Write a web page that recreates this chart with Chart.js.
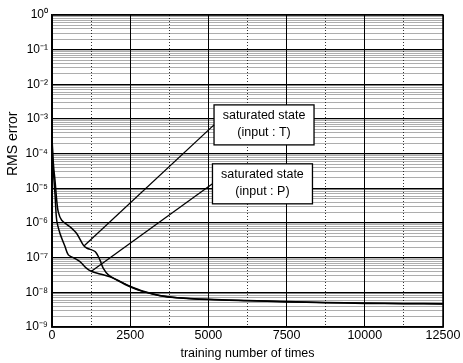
<!DOCTYPE html>
<html>
<head>
<meta charset="utf-8">
<script src="https://cdn.jsdelivr.net/npm/chart.js@4/dist/chart.umd.min.js"></script>
<style>
  html, body { margin: 0; padding: 0; background: #fff; }
  #wrap { width: 463px; height: 363px; }
</style>
</head>
<body>
<div id="wrap"><canvas id="chart" width="463" height="363"></canvas></div>
<script>
// data (training steps vs RMS error)
const tX = [0, 30, 60, 96, 150, 200, 310, 575, 789, 1002, 1109, 1375, 1535, 1641, 1801, 2068, 2494, 2920, 3450, 4000, 5000, 6250, 7500, 8750, 10000, 11250, 12500];
const tErr = [3e-4, 8e-5, 3.5e-5, 1.7e-5, 4.6e-6, 2.1e-6, 1.2e-6, 7.8e-7, 5e-7, 2.3e-7, 1.9e-7, 1.5e-7, 8.5e-8, 4.9e-8, 3.2e-8, 2.3e-8, 1.45e-8, 1.05e-8, 8e-9, 7e-9, 6.3e-9, 5.8e-9, 5.4e-9, 5.1e-9, 4.9e-9, 4.8e-9, 4.7e-9];

const pX = [0, 25, 64, 100, 150, 256, 416, 522, 682, 895, 1109, 1268, 1535, 1854, 2200, 2494, 2920, 3450, 4000, 5000, 6250, 7500, 8750, 10000, 11250, 12500];
const pErr = [3e-4, 6e-5, 1.7e-5, 6e-6, 1.2e-6, 5e-7, 2.1e-7, 1.2e-7, 1e-7, 7.7e-8, 4.9e-8, 4e-8, 3.4e-8, 2.8e-8, 2e-8, 1.5e-8, 1.07e-8, 8.1e-9, 7e-9, 6.2e-9, 5.7e-9, 5.3e-9, 5.0e-9, 4.8e-9, 4.7e-9, 4.6e-9];

const xTicks = [0, 2500, 5000, 7500, 10000, 12500];
const yExp = [-9, -8, -7, -6, -5, -4, -3, -2, -1, 0];

// annotation text and where each leader touches the curve
const notes = [
  { lines: ['saturated state', '(input : T)'], at: [1030, 2.2e-7], box: [5180, Math.pow(10, -3.17)] },
  { lines: ['saturated state', '(input : P)'], at: [1250, 4e-8], box: [5130, Math.pow(10, -4.87)] }
];

const SUP = { '-': '\u207B', '0': '\u2070', '1': '\u00B9', '2': '\u00B2', '3': '\u00B3', '4': '\u2074', '5': '\u2075', '6': '\u2076', '7': '\u2077', '8': '\u2078', '9': '\u2079' };
function sup(n) { return String(n).split('').map(c => SUP[c]).join(''); }
function isDecade(v) { const e = Math.log10(v); return Math.abs(e - Math.round(e)) < 1e-6; }

const FONT = 'Liberation Sans, Arial, sans-serif';

const frame = {
  id: 'frame',
  afterDatasetsDraw(chart) {
    const { ctx, chartArea: a, scales } = chart;
    ctx.save();
    // annotation boxes + leader lines
    ctx.font = '12.5px ' + FONT;
    ctx.textAlign = 'center';
    ctx.textBaseline = 'middle';
    notes.forEach(n => {
      const bx = scales.x.getPixelForValue(n.box[0]);
      const by = scales.y.getPixelForValue(n.box[1]);
      const px = scales.x.getPixelForValue(n.at[0]);
      const py = scales.y.getPixelForValue(n.at[1]);
      const w = 100, h = 40;
      ctx.fillStyle = '#fff';
      ctx.fillRect(bx, by - h / 2, w, h);
      ctx.strokeStyle = '#000';
      ctx.lineWidth = 1.3;
      ctx.strokeRect(bx, by - h / 2, w, h);
      ctx.beginPath();
      ctx.moveTo(px, py);
      ctx.lineTo(bx, by);
      ctx.stroke();
      ctx.fillStyle = '#000';
      ctx.fillText(n.lines[0], bx + w / 2, by - 9);
      ctx.fillText(n.lines[1], bx + w / 2, by + 8);
    });
    // box round the plot
    ctx.lineWidth = 1.5;
    ctx.strokeStyle = '#000';
    ctx.strokeRect(a.left, a.top, a.right - a.left, a.bottom - a.top);
    ctx.restore();
  }
};

new Chart(document.getElementById('chart'), {
  type: 'line',
  data: {
    datasets: [
      {
        label: 'input T',
        data: tX.map((x, i) => ({ x: x, y: tErr[i] })),
        borderColor: '#000',
        borderWidth: 1.5,
        pointRadius: 0,
        tension: 0.3,
        fill: false
      },
      {
        label: 'input P',
        data: pX.map((x, i) => ({ x: x, y: pErr[i] })),
        borderColor: '#000',
        borderWidth: 1.5,
        pointRadius: 0,
        tension: 0.3,
        fill: false
      }
    ]
  },
  options: {
    responsive: false,
    animation: false,
    layout: { padding: { top: 15, right: 20, left: 0, bottom: 0 } },
    plugins: { legend: { display: false }, tooltip: { enabled: false } },
    scales: {
      x: {
        type: 'linear',
        min: 0,
        max: 12500,
        afterBuildTicks(scale) {
          const t = [];
          for (let v = 0; v <= 12500; v += 1250) t.push({ value: v });
          scale.ticks = t;
        },
        afterFit(scale) { scale.height = 36; },
        ticks: {
          autoSkip: false,
          maxRotation: 0,
          padding: 1,
          color: '#000',
          font: { family: FONT, size: 12.5 },
          callback: v => xTicks.includes(v) ? String(v) : ''
        },
        grid: {
          drawTicks: false,
          color: ctx => (ctx.tick && ctx.tick.value % 2500 === 0) ? '#000' : '#333'
        },
        border: {
          color: '#000',
          width: 1.5,
          dash: ctx => (ctx.tick && ctx.tick.value % 2500 !== 0) ? [1, 2] : []
        },
        title: {
          display: true,
          text: 'training number of times',
          color: '#000',
          font: { family: FONT, size: 12.5 },
          padding: { top: 0, bottom: 2 }
        }
      },
      y: {
        type: 'logarithmic',
        min: 1e-9,
        max: 1,
        afterBuildTicks(scale) {
          const t = [];
          yExp.forEach(e => {
            for (let m = 1; m <= 9; m++) {
              const v = m * Math.pow(10, e);
              if (v <= 1) t.push({ value: v });
            }
          });
          scale.ticks = t;
        },
        afterFit(scale) { scale.width = 52; },
        ticks: {
          autoSkip: false,
          padding: 4,
          color: '#000',
          font: { family: FONT, size: 12 },
          callback: v => isDecade(v) ? '10' + sup(Math.round(Math.log10(v))) : ''
        },
        grid: {
          drawTicks: false,
          color: ctx => (ctx.tick && isDecade(ctx.tick.value)) ? '#000' : 'rgba(0,0,0,0.32)',
          lineWidth: ctx => (ctx.tick && isDecade(ctx.tick.value)) ? 1.2 : 1
        },
        border: { color: '#000', width: 1.5 },
        title: {
          display: true,
          // leading spaces lift the label above the axis middle, as in the figure
          text: '              RMS error',
          color: '#000',
          font: { family: FONT, size: 14 },
          padding: { top: 5, bottom: 0 }
        }
      }
    }
  },
  plugins: [frame]
});
</script>
</body>
</html>
